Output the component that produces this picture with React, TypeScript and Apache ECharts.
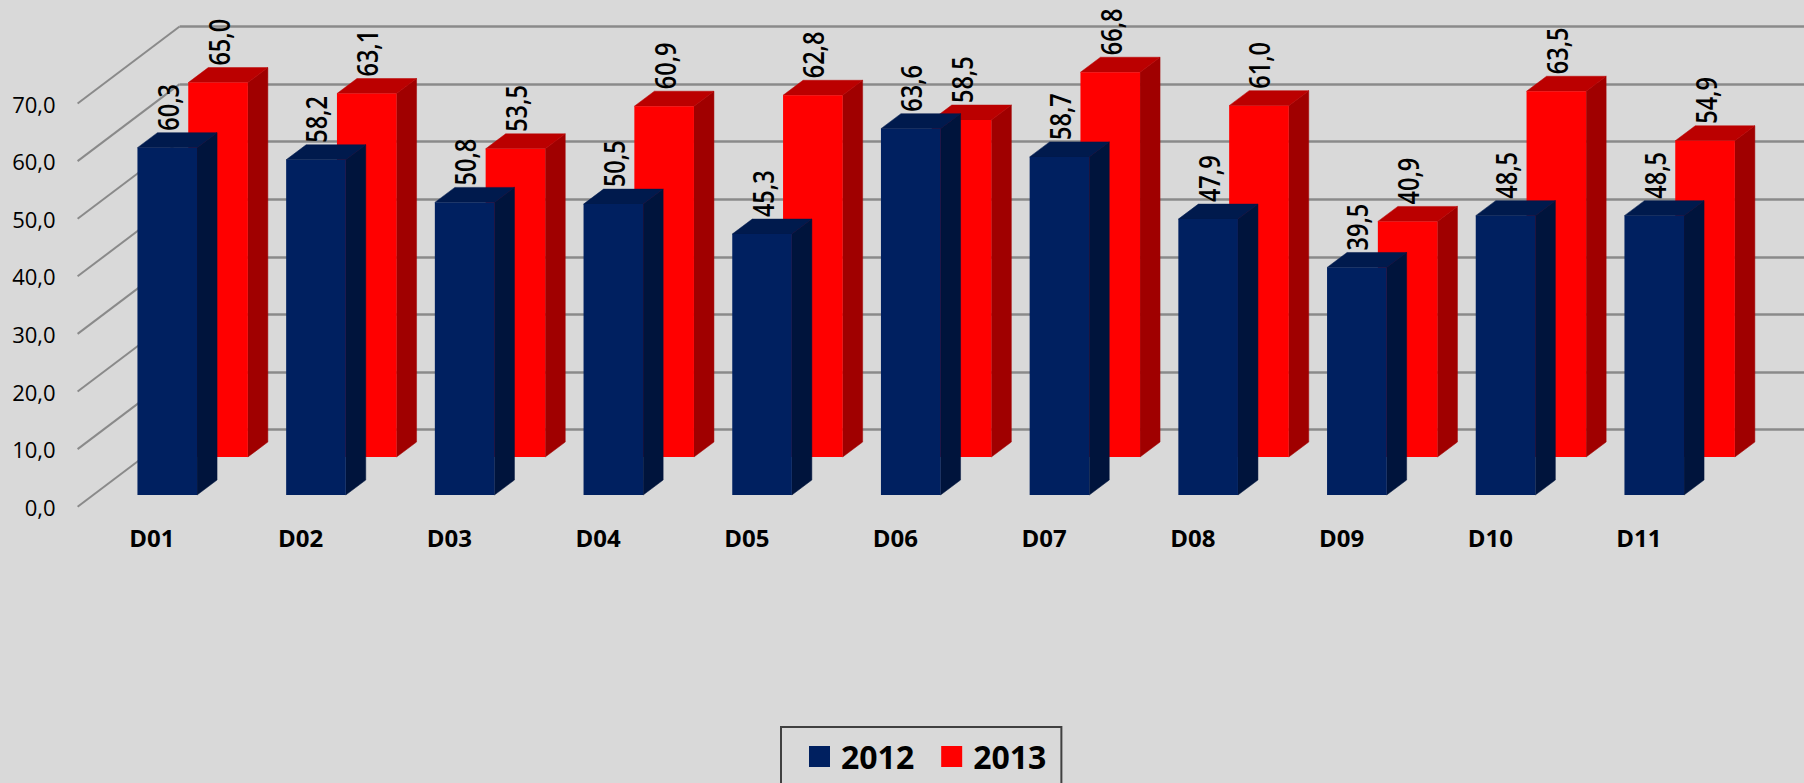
import React, { useEffect, useRef } from "react";
import * as echarts from "echarts";

const categories = ["D01", "D02", "D03", "D04", "D05", "D06", "D07", "D08", "D09", "D10", "D11"];
const values2012 = [60.3, 58.2, 50.8, 50.5, 45.3, 63.6, 58.7, 47.9, 39.5, 48.5, 48.5];
const values2013 = [65.0, 63.1, 53.5, 60.9, 62.8, 58.5, 66.8, 61.0, 40.9, 63.5, 54.9];
const yTicks = [0, 10, 20, 30, 40, 50, 60, 70];

const LEFT = 77.6;
const BAND = 148.7;
const Y0 = 506.7;
const H = 403.2;
const WALL_DX = 102;
const WALL_DY = 77;
const BAR_W = 59.6;
const DEPTH_X = 20;
const DEPTH_Y = 15;

const comma = (v: number) => v.toFixed(1).replace(".", ",");

function barRenderer(offX: number, offY: number, front: string, side: string, top: string) {
  return (_p: any, api: any) => {
    const cat = api.value(0);
    const v = api.value(1);
    const t = api.coord([cat, v]);
    const b = api.coord([cat, 0]);
    const x0 = t[0] + offX;
    const x1 = x0 + BAR_W;
    const yT = t[1] + offY;
    const yB = b[1] + offY;
    const poly = (pts: number[][], fill: string) => ({
      type: "polygon",
      shape: { points: pts },
      style: { fill, stroke: fill, lineWidth: 0.5 },
    });
    return {
      type: "group",
      children: [
        poly([[x1, yT], [x1 + DEPTH_X, yT - DEPTH_Y], [x1 + DEPTH_X, yB - DEPTH_Y], [x1, yB]], side),
        poly([[x0, yT], [x0 + DEPTH_X, yT - DEPTH_Y], [x1 + DEPTH_X, yT - DEPTH_Y], [x1, yT]], top),
        { type: "rect", shape: { x: x0, y: yT, width: BAR_W, height: yB - yT }, style: { fill: front } },
        {
          type: "text",
          x: (x0 + x1) / 2 + 0.5,
          y: yT - DEPTH_Y - 2,
          rotation: Math.PI / 2,
          scaleY: 1.25,
          style: {
            text: comma(v),
            fill: "#000000",
            font: '600 23.5px "Open Sans"',
            align: "left",
            verticalAlign: "middle",
          },
        },
      ],
    };
  };
}

const slantRenderer = (p: any, api: any) => {
  const c = api.coord([0, api.value(0)]);
  const x = p.coordSys.x;
  return {
    type: "line",
    shape: { x1: x, y1: c[1], x2: x + WALL_DX, y2: c[1] - WALL_DY },
    style: { stroke: "#8a8a8a", lineWidth: 2 },
  };
};

export default function App() {
  const ref = useRef<HTMLDivElement>(null);
  useEffect(() => {
    document.body.style.margin = "0";
    const chart = echarts.init(ref.current!, undefined, { renderer: "svg" });
    chart.setOption({
      animation: false,
      backgroundColor: "#d9d9d9",
      grid: [
        { left: LEFT, top: Y0 - H, width: BAND * categories.length, height: H },
        { left: LEFT + WALL_DX, top: Y0 - H - WALL_DY, right: 0, height: H },
      ],
      xAxis: [
        {
          type: "category",
          gridIndex: 0,
          data: categories,
          axisLine: { show: false },
          axisTick: { show: false },
          axisLabel: {
            margin: 19,
            color: "#000000",
            fontFamily: "Open Sans",
            fontWeight: "bold",
            fontSize: 24,
          },
        },
        { type: "category", gridIndex: 1, data: categories, show: false },
      ],
      yAxis: [
        {
          type: "value",
          gridIndex: 0,
          min: 0,
          max: 70,
          interval: 10,
          axisLine: { show: false },
          axisTick: { show: false },
          splitLine: { show: false },
          axisLabel: {
            margin: 22,
            color: "#000000",
            fontFamily: "Open Sans",
            fontSize: 22,
            formatter: (v: number) => comma(v),
          },
        },
        {
          type: "value",
          gridIndex: 1,
          min: 0,
          max: 70,
          interval: 10,
          axisLine: { show: false },
          axisTick: { show: false },
          axisLabel: { show: false },
          splitLine: { show: true, lineStyle: { color: "#8a8a8a", width: 2.5 } },
        },
      ],
      legend: {
        data: ["2012", "2013"],
        left: 781,
        top: 727,
        orient: "horizontal",
        icon: "rect",
        itemWidth: 21,
        itemHeight: 21,
        itemGap: 27,
        padding: [13.5, 15, 40, 28],
        borderColor: "#404040",
        borderWidth: 2,
        textStyle: { color: "#000000", fontFamily: "Open Sans", fontWeight: "bold", fontSize: 32, padding: [0, 0, 12, 6] },
      },
      series: [
        {
          type: "custom",
          name: "grid",
          xAxisIndex: 0,
          yAxisIndex: 0,
          data: yTicks.map((v) => [v]),
          encode: { y: 0 },
          renderItem: slantRenderer,
          silent: true,
        },
        {
          type: "custom",
          name: "2013",
          xAxisIndex: 0,
          yAxisIndex: 0,
          itemStyle: { color: "#ff0000" },
          data: values2013.map((v, i) => [i, v]),
          encode: { x: 0, y: 1 },
          renderItem: barRenderer(36.3, -49.7, "#ff0000", "#a00000", "#bb0000"),
        },
        {
          type: "custom",
          name: "2012",
          xAxisIndex: 0,
          yAxisIndex: 0,
          itemStyle: { color: "#002060" },
          data: values2012.map((v, i) => [i, v]),
          encode: { x: 0, y: 1 },
          renderItem: barRenderer(-14.5, -11.7, "#002060", "#00143c", "#001a4d"),
        },
      ],
    });
    return () => chart.dispose();
  }, []);
  return <div ref={ref} style={{ width: 1804, height: 783 }} />;
}
